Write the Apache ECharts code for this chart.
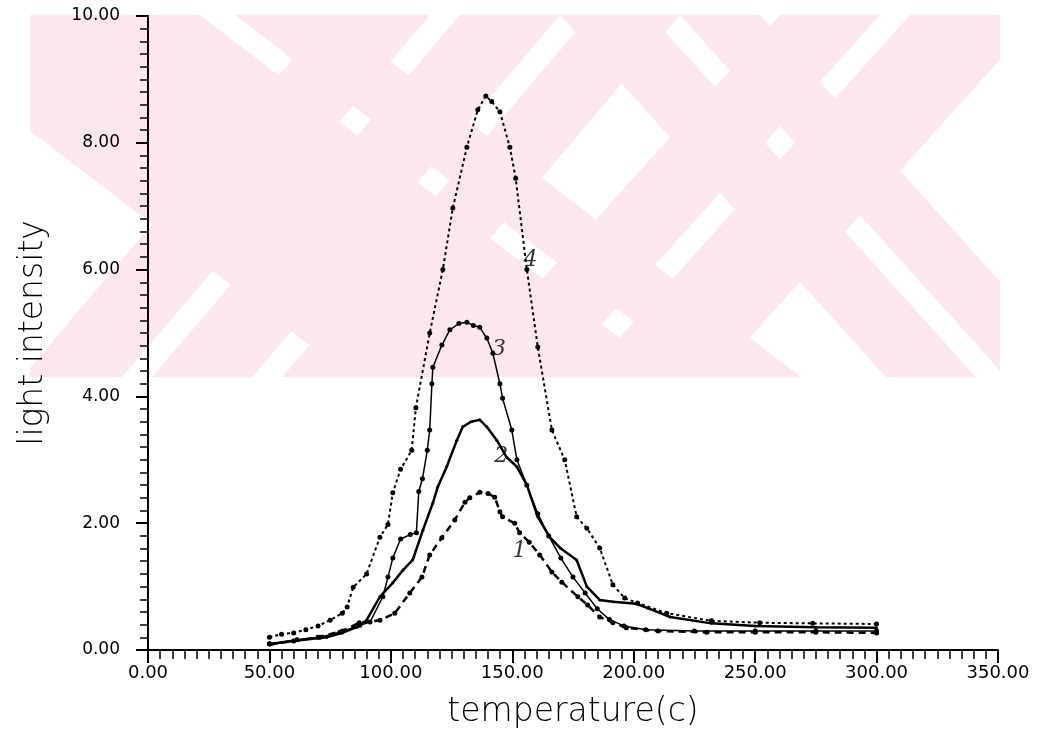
<!DOCTYPE html>
<html>
<head>
<meta charset="utf-8">
<script src="https://cdn.jsdelivr.net/npm/echarts@6/dist/echarts.min.js"></script>
<style>html,body{margin:0;padding:0;background:#fff}#c{width:1041px;height:730px}</style>
</head>
<body>
<div id="c"></div>
<script>
// ---- data (temperature in C, light intensity) ----
const xTicks = [0, 50, 100, 150, 200, 250, 300, 350];
const yTicks = [0, 2, 4, 6, 8, 10];

const curve1X = [50, 60, 70, 80, 87, 95.5, 101.6, 107.8, 112.8, 116, 121, 126.3, 130.5, 132.5, 136.6, 140, 142.8, 144.9, 146, 151, 153, 157, 161.3, 166.3, 170.4, 177, 181, 186, 191.4, 197, 210, 230, 250, 275, 300];
const curve1Y = [0.10, 0.14, 0.20, 0.30, 0.43, 0.47, 0.58, 0.90, 1.15, 1.50, 1.77, 2.05, 2.33, 2.40, 2.49, 2.47, 2.41, 2.18, 2.10, 2.00, 1.85, 1.70, 1.50, 1.23, 1.07, 0.84, 0.71, 0.52, 0.43, 0.35, 0.30, 0.28, 0.28, 0.28, 0.27];

const curve2X = [50, 55, 64, 73.6, 80, 86, 90, 95.5, 100.8, 105, 109, 113.2, 117.3, 119.3, 123, 127.2, 129.6, 133, 136.6, 139.5, 143.6, 147.7, 151.9, 156, 160.5, 165.4, 170, 176.5, 180.7, 186, 191.4, 201, 205.8, 215, 232, 250, 275, 300];
const curve2Y = [0.08, 0.12, 0.16, 0.20, 0.27, 0.36, 0.47, 0.84, 1.06, 1.26, 1.42, 1.89, 2.32, 2.57, 2.89, 3.31, 3.52, 3.60, 3.63, 3.52, 3.31, 3.04, 2.89, 2.60, 2.10, 1.78, 1.60, 1.42, 1.00, 0.79, 0.76, 0.73, 0.66, 0.52, 0.42, 0.38, 0.36, 0.35];

const curve3X = [50, 61.3, 70.8, 79, 87.2, 91.4, 96.7, 98.8, 100.8, 104, 108, 110.5, 111.5, 113, 115, 116, 116.9, 117.3, 121, 124.3, 128, 131.3, 134, 136.6, 139.5, 142, 144.9, 146, 149.8, 151.9, 156, 160.5, 165, 170, 175, 180, 185, 190, 196, 205, 225, 250, 275, 300];
const curve3Y = [0.10, 0.16, 0.20, 0.28, 0.39, 0.44, 0.84, 1.15, 1.45, 1.75, 1.82, 1.85, 2.50, 2.70, 3.15, 3.47, 4.20, 4.46, 4.81, 5.05, 5.15, 5.17, 5.12, 5.09, 4.92, 4.68, 4.20, 3.97, 3.47, 3.00, 2.60, 2.15, 1.80, 1.45, 1.15, 0.90, 0.65, 0.48, 0.38, 0.32, 0.30, 0.30, 0.30, 0.30];

const curve4X = [50, 55, 60, 65, 70, 75, 80, 82, 84.5, 90, 95.5, 98.8, 100.8, 104, 108.6, 110.3, 116, 121.4, 125.5, 131.3, 135.8, 139.1, 141.5, 144.9, 149, 151.4, 156, 160.5, 166.3, 171.6, 176.5, 180.7, 186, 191.4, 196.3, 201.6, 213.6, 232, 251.9, 273.7, 300];
const curve4Y = [0.20, 0.25, 0.27, 0.32, 0.38, 0.47, 0.58, 0.68, 0.99, 1.20, 1.78, 1.98, 2.48, 2.85, 3.15, 3.82, 5.00, 6.00, 6.97, 7.93, 8.52, 8.74, 8.65, 8.49, 7.93, 7.44, 6.00, 4.78, 3.47, 3.00, 2.10, 1.92, 1.61, 1.03, 0.82, 0.74, 0.58, 0.46, 0.43, 0.42, 0.41];

const curveNames = ['1', '2', '3', '4'];
const labelX = [153, 145.5, 144.5, 157.5];
const labelY = [1.55, 3.05, 4.75, 6.15];

// ---- build ----
const zip = (xs, ys) => xs.map((x, i) => [x, ys[i]]);
const chart = echarts.init(document.getElementById('c'), null, {renderer: 'canvas'});

// decorative background watermark (light pink diagonal stripes)
const WM_TOP = 15, WM_BOT = 377, WM_L = 30, WM_R = 1000;
function clipX(pts, xb, keepGreater) {
  const out = [];
  for (let i = 0; i < pts.length; i++) {
    const a = pts[i], b = pts[(i + 1) % pts.length];
    const ina = keepGreater ? a[0] >= xb : a[0] <= xb;
    const inb = keepGreater ? b[0] >= xb : b[0] <= xb;
    if (ina) out.push(a);
    if (ina !== inb) {
      const t = (xb - a[0]) / (b[0] - a[0]);
      out.push([xb, a[1] + t * (b[1] - a[1])]);
    }
  }
  return out;
}
function band(x0, x1, slope) {
  const h = WM_BOT - WM_TOP;
  let pts = [[x0, WM_TOP], [x1, WM_TOP], [x1 + slope * h, WM_BOT], [x0 + slope * h, WM_BOT]];
  pts = clipX(pts, WM_L, true);
  pts = clipX(pts, WM_R, false);
  return pts;
}
const bands = [
  [-120, 200, 1.3], [235, 330, 1.3],
  [330, 430, -0.85], [460, 560, -0.85], [590, 680, -0.85],
  [560, 650, 0.9], [680, 760, 0.9],
  [780, 880, -0.9], [910, 1040, -0.9]
];
const wm = bands.map(b => ({
  type: 'polygon', silent: true, z: -100,
  shape: {points: band(b[0], b[1], b[2])},
  style: {fill: '#fce8ec', stroke: null}
}));

function lineSeries(name, data, type, width, sym) {
  return {
    name, type: 'line', data, smooth: false,
    symbol: 'circle', symbolSize: sym, showSymbol: sym > 0,
    itemStyle: {color: '#000'},
    lineStyle: {color: '#000', width, type},
    z: 5, animation: false
  };
}

chart.setOption({
  backgroundColor: '#fff',
  animation: false,
  graphic: {elements: wm},
  grid: {left: 148, right: 43, top: 16, bottom: 80, containLabel: false, outerBoundsMode: 'none'},
  xAxis: {
    type: 'value', min: xTicks[0], max: xTicks[xTicks.length - 1], interval: 50,
    name: 'temperature(c)', nameLocation: 'middle', nameGap: 46,
    nameTextStyle: {fontFamily: 'DejaVu Sans', fontSize: 33, fontWeight: 200, color: '#000'},
    axisLine: {show: true, onZero: false, lineStyle: {color: '#000', width: 2}},
    axisTick: {show: true, inside: false, length: 13, lineStyle: {color: '#000', width: 2}},
    minorTick: {show: true, splitNumber: 10, length: 9, lineStyle: {color: '#000', width: 1.5}},
    splitLine: {show: false},
    axisLabel: {margin: 14, formatter: v => v.toFixed(2), fontFamily: 'DejaVu Sans', fontSize: 18, color: '#000'}
  },
  yAxis: {
    type: 'value', min: yTicks[0], max: yTicks[yTicks.length - 1], interval: 2,
    name: 'light intensity', nameLocation: 'middle', nameGap: 98,
    nameTextStyle: {fontFamily: 'DejaVu Sans', fontSize: 33, fontWeight: 200, color: '#000'},
    axisLine: {show: true, onZero: false, lineStyle: {color: '#000', width: 2}},
    axisTick: {show: true, inside: false, length: 12, lineStyle: {color: '#000', width: 2}},
    minorTick: {show: true, splitNumber: 10, length: 8, lineStyle: {color: '#000', width: 1.5}},
    splitLine: {show: false},
    axisLabel: {margin: 28, formatter: v => v.toFixed(2), fontFamily: 'DejaVu Sans', fontSize: 17, color: '#000'}
  },
  series: [
    lineSeries('1', zip(curve1X, curve1Y), [7, 5], 2.5, 5),
    lineSeries('2', zip(curve2X, curve2Y), 'solid', 2.5, 3),
    lineSeries('3', zip(curve3X, curve3Y), 'solid', 1.5, 5),
    lineSeries('4', zip(curve4X, curve4Y), [3, 3], 2, 5),
    {
      type: 'scatter', symbolSize: 0, z: 6, silent: true,
      data: curveNames.map((n, i) => ({name: n, value: [labelX[i], labelY[i]]})),
      label: {show: true, position: 'inside', formatter: p => p.name,
        fontFamily: 'DejaVu Serif', fontStyle: 'italic', fontSize: 22, color: '#000'}
    }
  ]
});
</script>
</body>
</html>
